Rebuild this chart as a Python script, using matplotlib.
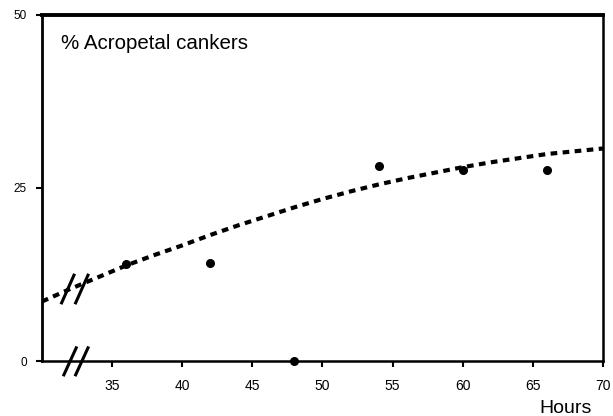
import matplotlib
matplotlib.use("Agg")
import matplotlib.pyplot as plt

plt.rcParams['font.family'] = ['Liberation Sans', 'DejaVu Sans']

# observed data points
obs_hours = [36, 42, 48, 54, 60, 66]
obs_pct = [14.0, 14.2, 0.0, 28.1, 27.6, 27.6]

# fitted trend curve
fit_hours = [30, 32, 34, 36, 38, 40, 42, 44, 46, 48, 50, 52, 54, 56, 58, 60, 62, 64, 66, 68, 70]
fit_pct = [8.6, 10.4, 12.1, 13.8, 15.3, 16.7, 18.2, 19.6, 20.9, 22.2, 23.4, 24.5, 25.5, 26.4, 27.2, 28.0, 28.7, 29.3, 29.9, 30.3, 30.7]

x_ticks = [35, 40, 45, 50, 55, 60, 65, 70]
y_ticks = [0, 25, 50]

fig = plt.figure(figsize=(6.13, 4.16), dpi=100)
ax = fig.add_axes([0.0685, 0.1322, 0.915, 0.832])

ax.plot(fit_hours, fit_pct, color='black', lw=3.0, dashes=(1.6, 1.3),
        solid_capstyle='butt', dash_capstyle='butt', zorder=3)
ax.plot(obs_hours, obs_pct, 'o', color='black', ms=5.5, zorder=4, clip_on=False)

ax.set_xlim(30, 70)
ax.set_ylim(0, 50)
ax.set_xticks(x_ticks)
ax.set_xticklabels([str(v) for v in x_ticks])
ax.set_yticks(y_ticks)
ax.set_yticklabels([str(v) for v in y_ticks])
ax.tick_params(axis='x', direction='out', length=4, width=1.5, labelsize=10, pad=9)
ax.tick_params(axis='y', direction='out', length=4, width=1.5, labelsize=8.5, pad=7)

ax.spines['left'].set_linewidth(2.0)
ax.spines['bottom'].set_linewidth(1.8)
ax.spines['right'].set_linewidth(1.8)
ax.spines['top'].set_linewidth(2.8)

ax.text(0.034, 0.916, '% Acropetal cankers', transform=ax.transAxes,
        fontsize=14.8, ha='left', va='center')
ax.text(0.934, -0.136, 'Hours', transform=ax.transAxes, fontsize=14,
        ha='center', va='center', clip_on=False)

# axis break marks on the bottom axis
tr = ax.transAxes
for xc in (0.05, 0.071):
    ax.plot([xc - 0.011, xc + 0.011], [-0.04, 0.038], transform=tr,
            color='black', lw=2.2, clip_on=False, zorder=5)
# break marks on the fitted curve
for xc in (0.046, 0.071):
    ax.plot([xc - 0.011, xc + 0.011], [0.168, 0.248], transform=tr,
            color='black', lw=2.2, clip_on=False, zorder=5)

fig.savefig('out.png', dpi=100)
